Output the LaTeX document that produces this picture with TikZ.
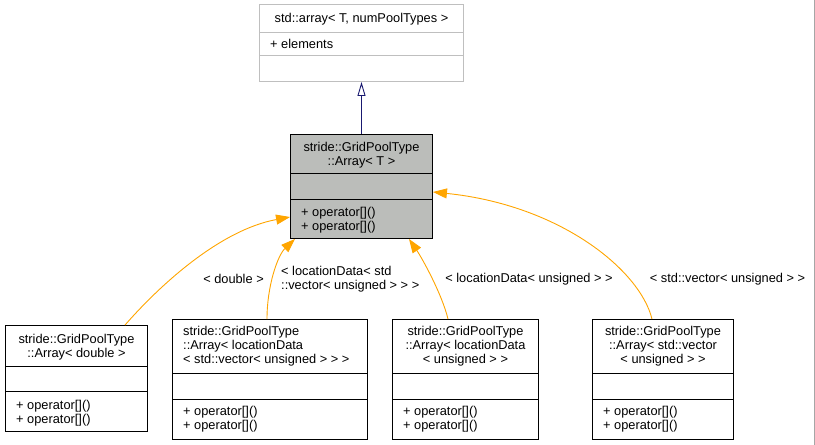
\documentclass[tikz,border=0pt]{standalone}
\usepackage{fontspec}
\setmainfont{Liberation Sans}
\usetikzlibrary{arrows.meta}
\definecolor{edgeorange}{RGB}{255,165,0}
\definecolor{inhnavy}{RGB}{25,25,112}
\definecolor{boxgray}{RGB}{187,189,186}
\definecolor{lightborder}{RGB}{191,191,191}
\begin{document}
\begin{tikzpicture}[x=1pt,y=-1pt,
  every node/.style={font=\fontsize{12.8}{14}\selectfont, inner sep=0pt},
  umlbox/.style={draw=black, rectangle, line width=0.9pt, inner sep=0pt},
  sepline/.style={draw=black, line width=0.9pt},
  usedby/.style={draw=edgeorange, line width=0.9pt,
    -{Triangle[length=14pt,width=10pt,fill=edgeorange]}},
  derives/.style={draw=inhnavy, line width=0.9pt,
    -{Triangle[open,length=14pt,width=8pt,fill=white]}},
  elabel/.style={text=black}]
\useasboundingbox (0,0) rectangle (815,445);
\draw[color=black!35, line width=1pt] (814.5,0) -- (814.5,445);

% base container class
\node[umlbox, draw=lightborder, minimum width=204pt, minimum height=77pt] (base) at (361.5,43) {};
\draw[draw=lightborder, line width=0.9pt] (base.west |- 0,32) -- (base.east |- 0,32);
\draw[draw=lightborder, line width=0.9pt] (base.west |- 0,55) -- (base.east |- 0,55);
\node (basetitle) at (361.5,19) {std::array< T, numPoolTypes >};
\node[anchor=west] (baseattr) at (270,44) {+ elements};

% template class
\node[umlbox, fill=boxgray, minimum width=142pt, minimum height=104pt] (ctr) at (361.5,186.5) {};
\draw[sepline] (ctr.west |- 0,173) -- (ctr.east |- 0,173);
\draw[sepline] (ctr.west |- 0,199) -- (ctr.east |- 0,199);
\node[align=center] (ctrtitle) at (361.5,155.5) {stride::GridPoolType\\::Array< T >};
\node[anchor=west, align=left] (ctrops) at (301,220) {+ operator[]()\\+ operator[]()};

% instantiation: double
\node[umlbox, minimum width=142pt, minimum height=106pt] (dbl) at (76.5,378.5) {};
\draw[sepline] (dbl.west |- 0,366) -- (dbl.east |- 0,366);
\draw[sepline] (dbl.west |- 0,391) -- (dbl.east |- 0,391);
\node[align=center] (dbltitle) at (76.5,347.5) {stride::GridPoolType\\::Array< double >};
\node[anchor=west, align=left] (dblops) at (16,413) {+ operator[]()\\+ operator[]()};

% instantiation: locationData< std::vector< unsigned > >
\node[umlbox, minimum width=195pt, minimum height=120pt] (lv) at (270,379.5) {};
\draw[sepline] (lv.west |- 0,373) -- (lv.east |- 0,373);
\draw[sepline] (lv.west |- 0,399) -- (lv.east |- 0,399);
\node[anchor=west, align=left] (lvtitle) at (183,346) {stride::GridPoolType\\::Array< locationData\\< std::vector< unsigned > > >};
\node[anchor=west, align=left] (lvops) at (183,419.5) {+ operator[]()\\+ operator[]()};

% instantiation: locationData< unsigned >
\node[umlbox, minimum width=146pt, minimum height=120pt] (lu) at (465.5,379.5) {};
\draw[sepline] (lu.west |- 0,373) -- (lu.east |- 0,373);
\draw[sepline] (lu.west |- 0,399) -- (lu.east |- 0,399);
\node[align=center] (lutitle) at (465.5,346) {stride::GridPoolType\\::Array< locationData\\< unsigned > >};
\node[anchor=west, align=left] (luops) at (403,419.5) {+ operator[]()\\+ operator[]()};

% instantiation: std::vector< unsigned >
\node[umlbox, minimum width=141pt, minimum height=120pt] (sv) at (663,379.5) {};
\draw[sepline] (sv.west |- 0,373) -- (sv.east |- 0,373);
\draw[sepline] (sv.west |- 0,399) -- (sv.east |- 0,399);
\node[align=center] (svtitle) at (663,346) {stride::GridPoolType\\::Array< std::vector\\< unsigned > >};
\node[anchor=west, align=left] (svops) at (603,419.5) {+ operator[]()\\+ operator[]()};

% inheritance
\draw[derives] (ctr.north) -- (base.south);

% template instantiations
\draw[usedby] ([xshift=48.5pt]dbl.north) .. controls (160,285) and (220,230) .. ([yshift=-30.5pt]ctr.west);
\draw[usedby] ([xshift=-3pt]lv.north) .. controls (267,285) and (278,255) .. ([xshift=-66.5pt]ctr.south);
\draw[usedby] ([xshift=-17.5pt]lu.north) .. controls (442,294) and (422,258) .. ([xshift=47.5pt]ctr.south);
\draw[usedby] ([xshift=-11pt]sv.north) .. controls (640,270) and (560,205) .. ([yshift=-5.5pt]ctr.east);

\node[elabel] (ldbl) at (233.5,279) {< double >};
\node[elabel, anchor=west, align=left] (llv) at (281,279.5) {< locationData< std\\::vector< unsigned > > >};
\node[elabel] (llu) at (529,279) {< locationData< unsigned > >};
\node[elabel] (lsv) at (727.5,279) {< std::vector< unsigned > >};
\end{tikzpicture}
\end{document}
